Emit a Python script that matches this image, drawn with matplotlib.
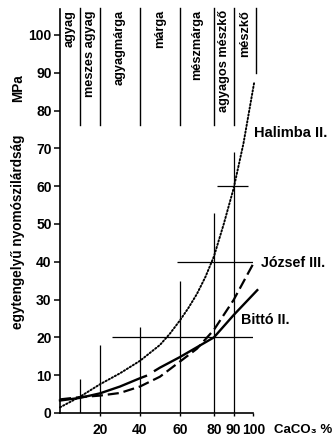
import numpy as np
import matplotlib
matplotlib.use("Agg")
import matplotlib.pyplot as plt

# rock types along the CaCO3 axis (boundaries in %)
rock_names = ["agyag", "meszes agyag", "agyagmárga", "márga",
              "mészmárga", "agyagos mészkő", "mészkő"]
rock_bounds = [0, 10, 20, 40, 60, 80, 90, 101.5]

# strength curves, MPa vs CaCO3 %
halimba_x = [0, 10, 20, 30, 40, 50, 55, 60, 65, 70, 75, 80, 85, 90, 95, 100.5]
halimba_y = [1.5, 4.3, 7.6, 10.5, 13.8, 18.0, 21.0, 24.5, 27.8, 31.5, 36.0,
             41.4, 50.0, 59.4, 71.3, 87.6]

jozsef_x = [0, 10, 20, 30, 40, 50, 60, 70, 80, 90, 100.5]
jozsef_y = [3.6, 4.2, 4.6, 5.3, 7.0, 9.6, 13.6, 17.0, 22.0, 29.9, 40.0]

bitto_x = [0, 10, 20, 30, 40, 43, 45, 47.5, 50, 60, 70, 80, 90, 102]
bitto_y = [3.3, 4.0, 5.2, 7.0, 9.2, 9.8, np.nan, 11.2, 12.0, 14.8, 17.4,
           20.0, 25.9, 32.5]

# scatter ranges: vertical bars (x, top) and horizontal bars (y, from, to)
vbar_x = [10, 20, 40, 60, 80, 90]
vbar_top = [8.9, 18.0, 22.7, 34.9, 53.0, 69.1]
hbar_y = [20, 40, 60]
hbar_from = [26, 58.3, 81.6]
hbar_to = [100, 100, 97.5]

xticks = [20, 40, 60, 80, 90, 100]
yticks = list(range(0, 101, 10))

# the printed axis is squeezed between 60 and 80
knots = [-1000, 0, 60, 80, 100, 1000]
mapped = [-1000, 0, 60, 77, 96.7, 996.7]


def fwd(x):
    return np.interp(x, knots, mapped)


def inv(x):
    return np.interp(x, mapped, knots)


plt.rcParams["font.family"] = ["Liberation Sans", "DejaVu Sans"]

fig = plt.figure(figsize=(3.32, 4.38), dpi=100)
ax = fig.add_axes([60 / 332, 25 / 438, 193.3 / 332, 404.5 / 438])
ax.set_xscale("function", functions=(fwd, inv))
ax.set_xlim(0, 100)
ax.set_ylim(0, 107)

for s in ["top", "right"]:
    ax.spines[s].set_visible(False)
for s in ["left", "bottom"]:
    ax.spines[s].set_linewidth(1.2)

ax.vlines(vbar_x, 0, vbar_top, color="black", lw=0.9)
ax.hlines(hbar_y, hbar_from, hbar_to, color="black", lw=0.9)

ax.plot(halimba_x, halimba_y, color="black", lw=1.4, ls=(0, (0.7, 1.1)),
        dash_capstyle="round", clip_on=False)
ax.plot(jozsef_x, jozsef_y, color="black", lw=1.6, ls=(0, (5, 2.2)),
        clip_on=False)
ax.plot(bitto_x, bitto_y, color="black", lw=1.7, clip_on=False)

# rock type boundaries and names on top
for b in rock_bounds[1:-1]:
    ax.plot([b, b], [76.2, 107.1], color="black", lw=1.0, clip_on=False)
ax.plot([rock_bounds[-1]] * 2, [90, 107.1], color="black", lw=1.0,
        clip_on=False)
for i, name in enumerate(rock_names):
    mid = (rock_bounds[i] + rock_bounds[i + 1]) / 2
    ax.text(mid, 106.6, name, rotation=90, ha="center", va="top",
            fontsize=9.2, fontweight="bold", clip_on=False)

ax.text(100.3, 74, "Halimba II.", fontsize=10.5, fontweight="bold",
        va="center", ha="left")
ax.text(104, 39.6, "József III.", fontsize=10.3, fontweight="bold",
        va="center", ha="left")
ax.text(94, 24.6, "Bittó II.", fontsize=10.3, fontweight="bold",
        va="center", ha="left")

ax.set_xticks(xticks)
ax.set_xticklabels([str(t) for t in xticks])
ax.set_yticks(yticks)
ax.tick_params(axis="y", direction="out", length=4, width=1.1, pad=2,
               labelsize=10)
ax.tick_params(axis="x", direction="out", length=2, width=1.0, pad=5,
               labelsize=10)
for lab in ax.get_xticklabels() + ax.get_yticklabels():
    lab.set_fontweight("bold")

fig.text(274 / 332, 1 - 430 / 438, "CaCO₃ %", fontsize=9.5,
         fontweight="bold", ha="left", va="center")
fig.text(18 / 332, 1 - 232 / 438, "egytengelyű nyomószilárdság",
         rotation=90, fontsize=9.8, fontweight="bold", ha="center",
         va="center")
fig.text(18 / 332, 1 - 88 / 438, "MPa", rotation=90, fontsize=9.8,
         fontweight="bold", ha="center", va="center")

fig.savefig("out.png", dpi=100)
